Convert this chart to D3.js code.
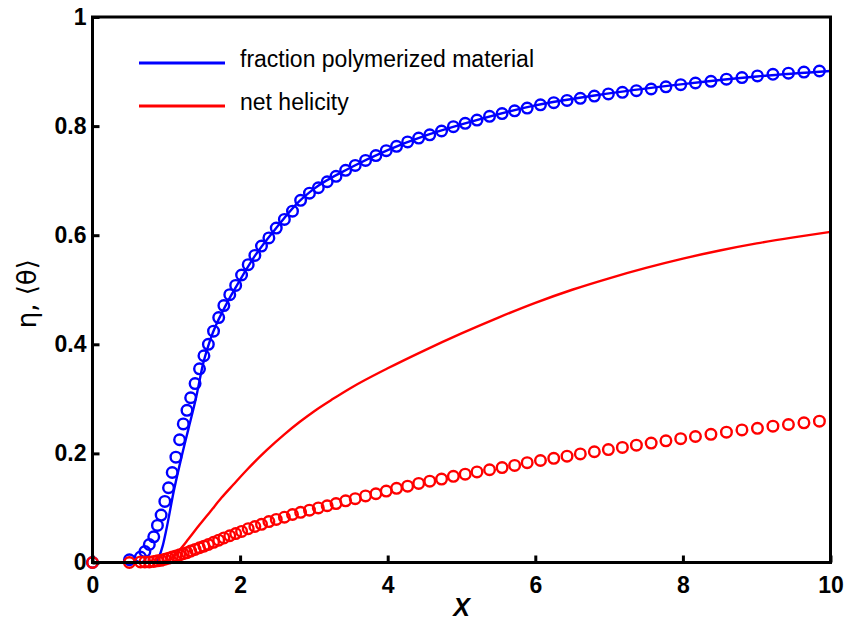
<!DOCTYPE html>
<html>
<head>
<meta charset="utf-8">
<script src="https://cdn.jsdelivr.net/npm/d3@7"></script>
<style>
  html, body { margin: 0; padding: 0; background: #fff; }
  svg { display: block; }
</style>
</head>
<body>
<svg id="chart" width="848" height="629"></svg>
<script>
// ---------------- data ----------------
const xTicks = [0, 2, 4, 6, 8, 10];
const yTicks = [0, 0.2, 0.4, 0.6, 0.8, 1];
const xTickLabels = ["0", "2", "4", "6", "8", "10"];
const yTickLabels = ["0", "0.2", "0.4", "0.6", "0.8", "1"];

const legendLabels = ["fraction polymerized material", "net helicity"];
const seriesColors = ["#0000ff", "#ff0000"];

// marker (circle) x positions, shared by both series
const markerX = [0, 0.5, 0.65, 0.71, 0.77, 0.83, 0.88, 0.93, 0.98, 1.03, 1.08, 1.13, 1.18, 1.23, 1.28,
  1.33, 1.39, 1.45, 1.51, 1.57, 1.64, 1.71, 1.78, 1.86, 1.94, 2.02, 2.11, 2.2, 2.29, 2.39, 2.49,
  2.6, 2.71, 2.82, 2.94, 3.06, 3.18, 3.3, 3.43, 3.56, 3.7, 3.84, 3.98, 4.12, 4.27, 4.42, 4.57,
  4.73, 4.89, 5.05, 5.21, 5.38, 5.55, 5.72, 5.89, 6.07, 6.25, 6.43, 6.61, 6.8, 6.99, 7.18, 7.37,
  7.57, 7.77, 7.97, 8.17, 8.38, 8.59, 8.8, 9.01, 9.22, 9.43, 9.64, 9.85];

const polymerMarkers = [0, 0.005, 0.01, 0.02, 0.033, 0.047, 0.068, 0.087, 0.112, 0.137, 0.165, 0.193, 0.225, 0.254, 0.279,
  0.302, 0.328, 0.355, 0.379, 0.4, 0.424, 0.449, 0.471, 0.491, 0.508, 0.527, 0.546, 0.563, 0.58, 0.595, 0.613,
  0.629, 0.644, 0.664, 0.677, 0.687, 0.698, 0.708, 0.719, 0.728, 0.737, 0.746, 0.755, 0.763, 0.771, 0.778, 0.784,
  0.791, 0.799, 0.805, 0.811, 0.818, 0.823, 0.828, 0.833, 0.839, 0.843, 0.847, 0.851, 0.855, 0.859, 0.862, 0.865,
  0.868, 0.872, 0.876, 0.879, 0.882, 0.886, 0.889, 0.892, 0.895, 0.897, 0.899, 0.901];

const helicityMarkers = [0, 0, 0.001, 0.001, 0.001, 0.002, 0.003, 0.004, 0.006, 0.008, 0.01, 0.012, 0.014, 0.016, 0.018,
  0.021, 0.024, 0.027, 0.03, 0.033, 0.037, 0.041, 0.045, 0.049, 0.053, 0.057, 0.062, 0.066, 0.07, 0.075, 0.079,
  0.083, 0.088, 0.092, 0.096, 0.1, 0.104, 0.108, 0.113, 0.117, 0.122, 0.126, 0.131, 0.136, 0.14, 0.145, 0.149,
  0.153, 0.158, 0.162, 0.166, 0.17, 0.174, 0.178, 0.183, 0.187, 0.191, 0.195, 0.199, 0.203, 0.207, 0.211, 0.215,
  0.219, 0.223, 0.227, 0.231, 0.235, 0.239, 0.243, 0.246, 0.25, 0.253, 0.256, 0.259];

// solid lines
const polymerLineX = [0, 0.85, 0.9, 0.95, 1.0, 1.1, 1.2, 1.3, 1.4, 1.5, 1.6, 1.8, 2.0, 2.2, 2.5, 2.8, 3.0, 3.5, 4.0, 4.5, 5.0, 6.0, 7.0, 8.0, 9.0, 10];
const polymerLineY = [0, 0, 0.01, 0.03, 0.06, 0.13, 0.19, 0.245, 0.3, 0.365, 0.41, 0.47, 0.518, 0.562, 0.615, 0.662, 0.685, 0.724, 0.756, 0.782, 0.803, 0.838, 0.86, 0.877, 0.891, 0.901];

const helicityLineX = [0, 0.85, 1.0, 1.1, 1.2, 1.3, 1.45, 1.6, 1.75, 1.91, 2.1, 2.36, 2.6, 2.81, 3.0, 3.26, 3.5, 4.0, 4.5, 5.0, 5.5, 6.0, 6.5, 7.0, 7.5, 8.0, 8.5, 9.0, 9.5, 10];
const helicityLineY = [0, 0, 0.003, 0.011, 0.026, 0.043, 0.069, 0.094, 0.119, 0.143, 0.171, 0.206, 0.235, 0.258, 0.277, 0.3, 0.32, 0.356, 0.389, 0.42, 0.449, 0.476, 0.5, 0.521, 0.54, 0.557, 0.572, 0.585, 0.596, 0.606];

// ---------------- layout ----------------
const svg = d3.select("#chart");
const L = 92.5, R = 830.5, T = 17, B = 562.5;

const x = d3.scaleLinear().domain([0, 10]).range([L, R]);
const y = d3.scaleLinear().domain([0, 1]).range([B, T]);

const tickFont = "'Liberation Sans', Arial, Helvetica, sans-serif";

svg.append("clipPath").attr("id", "clip")
  .append("rect").attr("x", L - 8).attr("y", T - 8).attr("width", R - L + 16).attr("height", B - T + 16);

const plot = svg.append("g").attr("clip-path", "url(#clip)");

const line = d3.line().x(d => x(d[0])).y(d => y(d[1])).curve(d3.curveMonotoneX);

function drawMarkers(vals, color) {
  plot.append("g").selectAll("circle")
    .data(markerX.map((xv, i) => [xv, vals[i]]))
    .join("circle")
    .attr("cx", d => x(d[0])).attr("cy", d => y(d[1])).attr("r", 5.3)
    .attr("fill", "none").attr("stroke", color).attr("stroke-width", 2.4);
}
function drawLine(xs, ys, color) {
  plot.append("path")
    .datum(xs.map((xv, i) => [xv, ys[i]]))
    .attr("d", line)
    .attr("fill", "none").attr("stroke", color).attr("stroke-width", 2.4);
}

drawMarkers(polymerMarkers, seriesColors[0]);
drawLine(polymerLineX, polymerLineY, seriesColors[0]);
drawLine(helicityLineX, helicityLineY, seriesColors[1]);
drawMarkers(helicityMarkers, seriesColors[1]);

// axes
const xAxis = d3.axisBottom(x).tickValues(xTicks).tickFormat((d, i) => xTickLabels[i])
  .tickSizeInner(-7).tickSizeOuter(0).tickPadding(14);
const yAxis = d3.axisLeft(y).tickValues(yTicks).tickFormat((d, i) => yTickLabels[i])
  .tickSizeInner(-7).tickSizeOuter(0).tickPadding(6);

const gx = svg.append("g").attr("transform", `translate(0,${B})`).call(xAxis);
const gy = svg.append("g").attr("transform", `translate(${L},0)`).call(yAxis);
[gx, gy].forEach(g => {
  g.select(".domain").remove();
  g.selectAll(".tick line").attr("stroke", "#000").attr("stroke-width", 3);
  g.selectAll(".tick text").attr("fill", "#000")
    .style("font-family", tickFont).style("font-weight", "bold").style("font-size", "23px");
});

// frame
svg.append("rect").attr("x", L).attr("y", T).attr("width", R - L).attr("height", B - T)
  .attr("fill", "none").attr("stroke", "#000").attr("stroke-width", 3);

// legend
const legend = svg.append("g");
const legendY = [63, 106];
legendLabels.forEach((lab, i) => {
  legend.append("line").attr("x1", 139).attr("x2", 225).attr("y1", legendY[i]).attr("y2", legendY[i])
    .attr("stroke", seriesColors[i]).attr("stroke-width", 3);
  legend.append("text").attr("x", 240).attr("y", legendY[i] + 4)
    .style("font-family", tickFont).style("font-size", "23px").attr("fill", "#000")
    .text(lab);
});

// axis titles
svg.append("text").attr("x", (L + R) / 2).attr("y", 616).attr("text-anchor", "middle")
  .style("font-family", tickFont).style("font-weight", "bold").style("font-style", "italic")
  .style("font-size", "25px").text("X");

svg.append("text").attr("transform", `translate(36,${(T + B) / 2 + 4}) rotate(-90)`)
  .attr("text-anchor", "middle")
  .style("font-family", "'DejaVu Sans', 'Liberation Sans', sans-serif").style("font-size", "26px")
  .text("η, ⟨θ⟩");
</script>
</body>
</html>
